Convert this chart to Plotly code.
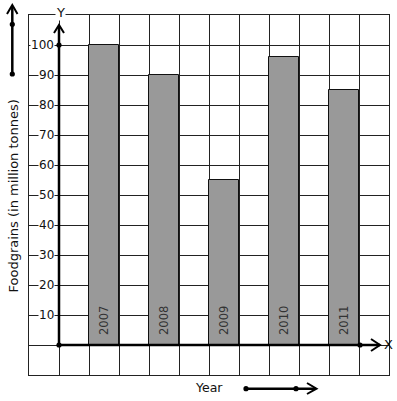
import plotly.graph_objects as go

years = ["2007", "2008", "2009", "2010", "2011"]
values = [100, 90, 55, 96, 85]
bar_pos = [1.5, 3.5, 5.5, 7.5, 9.5]
ytick_vals = [10, 20, 30, 40, 50, 60, 70, 80, 90, 100]
ytick_text = ["10", "20", "30", "40", "50", "60", "70", "80", "90", "100"]

W, H = 397, 401
L, R, T, B = 29, 389, 15, 375  # plot area in pixels


def xp(px):
    return (px - L) / (R - L)


def yp(py):
    return (B - py) / (B - T)


FONT = "DejaVu Sans"
INK = "#111111"
GRID = "#222222"

fig = go.Figure()
fig.add_trace(go.Bar(
    x=bar_pos, y=values, width=1,
    marker=dict(color="#999999", line=dict(color="#111111", width=1)),
    hoverinfo="skip", showlegend=False,
))

shapes = []
# y axis thick line and arrow
shapes.append(dict(type="line", xref="paper", yref="paper",
                   x0=xp(59), y0=yp(345), x1=xp(59), y1=yp(26),
                   line=dict(color="black", width=2.5), layer="above"))
shapes.append(dict(type="path", xref="paper", yref="paper",
                   path=f"M {xp(54)},{yp(33)} L {xp(59)},{yp(25)} L {xp(64)},{yp(33)}",
                   line=dict(color="black", width=2), layer="above"))
# x axis thick line and arrow
shapes.append(dict(type="line", xref="paper", yref="paper",
                   x0=xp(59), y0=yp(345), x1=xp(380), y1=yp(345),
                   line=dict(color="black", width=2.5), layer="above"))
shapes.append(dict(type="path", xref="paper", yref="paper",
                   path=f"M {xp(371)},{yp(339)} L {xp(380)},{yp(345)} L {xp(371)},{yp(351)}",
                   line=dict(color="black", width=2), layer="above"))
# top-left decorative arrow
shapes.append(dict(type="line", xref="paper", yref="paper",
                   x0=xp(12.3), y0=yp(74), x1=xp(12.3), y1=yp(6),
                   line=dict(color="black", width=2.5), layer="above"))
shapes.append(dict(type="path", xref="paper", yref="paper",
                   path=f"M {xp(7)},{yp(14)} L {xp(12.3)},{yp(5)} L {xp(17.5)},{yp(14)}",
                   line=dict(color="black", width=2), layer="above"))
# bottom decorative arrow
shapes.append(dict(type="line", xref="paper", yref="paper",
                   x0=xp(246), y0=yp(388.7), x1=xp(316), y1=yp(388.7),
                   line=dict(color="black", width=2.5), layer="above"))
shapes.append(dict(type="path", xref="paper", yref="paper",
                   path=f"M {xp(307)},{yp(383)} L {xp(316.5)},{yp(388.7)} L {xp(307)},{yp(394)}",
                   line=dict(color="black", width=2), layer="above"))
# dots
for (cx, cy) in [(59, 45), (59, 345), (360, 345), (12.3, 24.3), (12.3, 74),
                 (246, 388.7), (296, 388.7)]:
    r = 2.6
    shapes.append(dict(type="circle", xref="paper", yref="paper",
                       x0=xp(cx - r), x1=xp(cx + r), y0=yp(cy + r), y1=yp(cy - r),
                       fillcolor="black", line=dict(color="black", width=0),
                       layer="above"))

annotations = []
for v, t in zip(ytick_vals, ytick_text):
    annotations.append(dict(x=xp(55), xref="paper", y=v, yref="y", text=t,
                            xanchor="right", yanchor="middle", showarrow=False,
                            bgcolor="white", borderpad=0,
                            font=dict(family=FONT, size=12, color=INK)))
for xpos, yr in zip(bar_pos, years):
    annotations.append(dict(x=xpos, xref="x", y=8, yref="y", text=yr,
                            textangle=-90, xanchor="center", yanchor="middle",
                            showarrow=False,
                            font=dict(family=FONT, size=11.5, color="#333333")))
annotations.append(dict(x=xp(60), y=yp(12), xref="paper", yref="paper", text="Y",
                        showarrow=False, bgcolor="white", borderpad=0,
                        xanchor="center", yanchor="middle",
                        font=dict(family=FONT, size=13, color=INK)))
annotations.append(dict(x=xp(388.5), y=yp(344), xref="paper", yref="paper", text="X",
                        showarrow=False, xanchor="center", yanchor="middle",
                        font=dict(family=FONT, size=13, color=INK)))
annotations.append(dict(x=xp(209), y=yp(387.5), xref="paper", yref="paper", text="Year",
                        showarrow=False, xanchor="center", yanchor="middle",
                        font=dict(family=FONT, size=12.5, color=INK)))
annotations.append(dict(x=xp(12.5), y=yp(196), xref="paper", yref="paper",
                        text="Foodgrains (in million tonnes)", textangle=-90,
                        showarrow=False, xanchor="center", yanchor="middle",
                        font=dict(family=FONT, size=13, color=INK)))

fig.update_layout(
    width=W, height=H,
    margin=dict(l=L, r=W - R, t=T, b=H - B, pad=0),
    paper_bgcolor="white", plot_bgcolor="white",
    xaxis=dict(range=[-1, 11], tick0=0, dtick=1, showgrid=True, gridcolor=GRID,
               gridwidth=1, zeroline=False, showticklabels=False, ticks="",
               showline=True, linecolor=GRID, linewidth=1, mirror=True,
               fixedrange=True),
    yaxis=dict(range=[-10, 110], tick0=0, dtick=10, showgrid=True, gridcolor=GRID,
               gridwidth=1, zeroline=False, showticklabels=False, ticks="",
               showline=True, linecolor=GRID, linewidth=1, mirror=True,
               fixedrange=True),
    shapes=shapes, annotations=annotations, bargap=0,
)

fig.write_html("out.html", config={"displayModeBar": False},
               post_script="document.body.style.margin='0';document.body.style.overflow='hidden';")
